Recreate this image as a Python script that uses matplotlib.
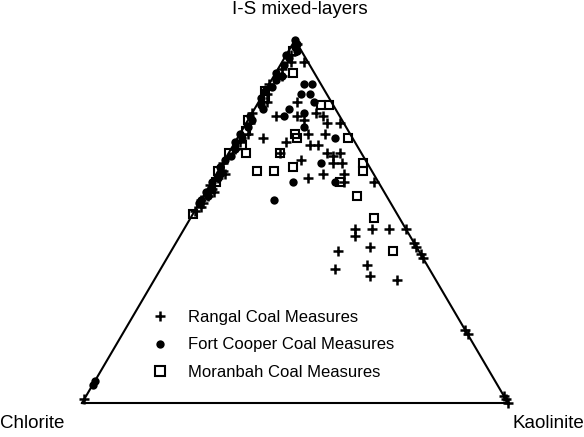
import matplotlib
matplotlib.use("Agg")
import matplotlib.pyplot as plt
from matplotlib.lines import Line2D

plt.rcParams['font.family'] = ['Liberation Sans', 'DejaVu Sans']

# Ternary compositions (%): I-S mixed-layers and kaolinite; chlorite = 100 - both
rangal_is = [94, 83, 79, 79, 78, 80, 79, 77, 77, 74, 73, 74, 72, 69, 67, 71, 71, 69, 68, 69,
             66, 66, 63, 61, 62, 63, 61, 48, 46, 48, 48, 42, 43, 37, 38, 35, 34,
             48, 44, 43, 41, 40, 20, 19, 2, 1, 0,
             99, 96, 94, 92, 90, 88, 85, 83, 80, 77, 74, 72, 70, 66, 64, 63, 62, 60, 59,
             58, 57, 56, 55, 54, 53, 1]
rangal_ka = [5, 9, 6, 11, 13, 15, 17, 19, 22, 20, 6, 16, 12, 12, 18, 18, 20, 23, 25, 26,
             26, 28, 30, 31, 22, 25, 38, 40, 41, 44, 48, 39, 46, 41, 48, 50, 57,
             52, 56, 57, 59, 60, 80, 81, 98, 99, 100,
             1, 1, 2, 1, 2, 0, 1, 2, 0, 1, 2, 1, 1, 0, 1, 2, 1, 0, 1,
             2, 1, 0, 1, 1, 0, 0]

fortcooper_is = [88, 88, 85, 85, 83, 81, 79, 80, 76, 73, 66, 61, 61, 56,
                 100, 99, 98, 97, 96, 95, 93, 91, 90, 89, 87, 86, 84, 82, 81, 79, 78, 76,
                 74, 73, 72, 70, 68, 67, 65, 63, 62, 61, 59, 58, 57, 56, 55, 6, 5]
fortcooper_ka = [8, 10, 9, 11, 13, 8, 8, 12, 14, 23, 23, 19, 29, 17,
                 0, 1, 1, 2, 0, 1, 1, 0, 2, 1, 1, 0, 0, 1, 2, 0, 1, 1,
                 0, 1, 0, 1, 1, 0, 0, 1, 1, 0, 1, 0, 1, 0, 0, 0, 0]

moranbah_is = [91, 82, 82, 74, 73, 69, 73, 64, 64, 65, 61, 66, 64, 57, 51, 42, 69, 71,
               97, 86, 84, 78, 75, 69, 64, 61, 52]
moranbah_ka = [4, 15, 17, 13, 14, 12, 26, 9, 13, 17, 30, 33, 34, 36, 43, 52, 4, 2,
               1, 0, 1, 0, 1, 0, 0, 1, 0]

labels = ["Rangal Coal Measures", "Fort Cooper Coal Measures", "Moranbah Coal Measures"]
apex_labels = ["I-S mixed-layers", "Chlorite", "Kaolinite"]


def to_xy(is_pct, ka_pct):
    xs = [k / 100 + s / 200 for s, k in zip(is_pct, ka_pct)]
    ys = [s / 100 for s in is_pct]
    return xs, ys


W, H = 584, 437
fig = plt.figure(figsize=(W / 100, H / 100), dpi=100)
left, right, bottom, top = 82, 508, 403, 40
ax = fig.add_axes([left / W, 1 - bottom / H, (right - left) / W, (bottom - top) / H])
ax.set_xlim(0, 1)
ax.set_ylim(0, 1)
ax.axis('off')

# triangle outline
ax.plot([0, 1, 0.5, 0], [0, 0, 1, 0], color='black', lw=1.5, clip_on=False,
        solid_joinstyle='miter')

x, y = to_xy(rangal_is, rangal_ka)
ax.plot(x, y, ls='none', marker='+', ms=7.5, mew=1.8, color='black', clip_on=False)
x, y = to_xy(fortcooper_is, fortcooper_ka)
ax.plot(x, y, ls='none', marker='o', ms=6, mew=0, color='black', clip_on=False)
x, y = to_xy(moranbah_is, moranbah_ka)
ax.plot(x, y, ls='none', marker='s', ms=5.6, mew=1.5, mfc='none', mec='black', clip_on=False)

# apex labels
fig.text(300 / W, 1 - 10 / H, apex_labels[0], ha='center', va='center', fontsize=13.5)
fig.text(0 / W, 1 - 424 / H, apex_labels[1], ha='left', va='center', fontsize=13.5)
fig.text(584 / W, 1 - 424 / H, apex_labels[2], ha='right', va='center', fontsize=13.5)

# legend
handles = [
    Line2D([], [], ls='none', marker='+', ms=7.5, mew=1.8, color='black'),
    Line2D([], [], ls='none', marker='o', ms=6, mew=0, color='black'),
    Line2D([], [], ls='none', marker='s', ms=7, mew=1.5, mfc='none', mec='black'),
]
fig.legend(handles, labels, loc='center left', bbox_to_anchor=(143 / W, 1 - 345 / H),
           frameon=False, fontsize=12, labelspacing=0.75, handletextpad=1.2,
           handlelength=1.0, borderpad=0)

fig.savefig("out.png", dpi=100)
